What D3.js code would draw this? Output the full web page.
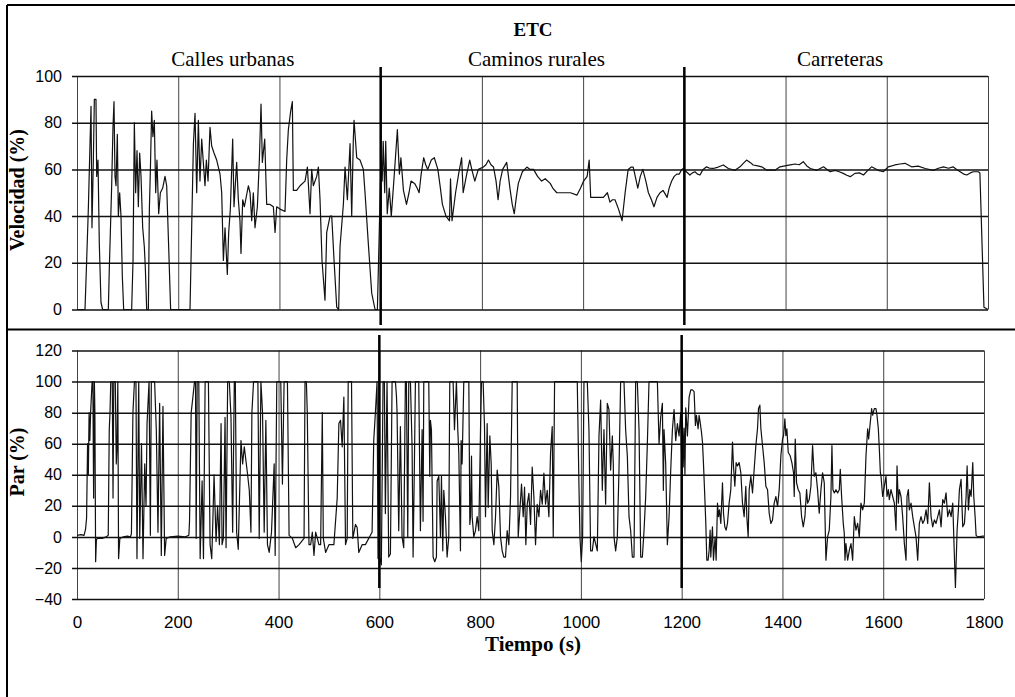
<!DOCTYPE html>
<html><head><meta charset="utf-8">
<script src="https://cdn.jsdelivr.net/npm/d3@7/dist/d3.min.js"></script>
<style>body{margin:0;background:#fff}svg{display:block}</style>
</head><body>
<svg id="c" width="1015" height="697"></svg>
<script>
// ---------- DATA ----------
const xTicks = [0,200,400,600,800,1000,1200,1400,1600,1800];
const speedTicks = [0,20,40,60,80,100];
const torqueTicks = [-40,-20,0,20,40,60,80,100,120];
const sections = ["Calles urbanas","Caminos rurales","Carreteras"];
const sectionMid = [300,900,1500];
const separators = [600,1200];

const speedUrban = [[0,0],[15.8,0],[19.1,21],[22.4,43],[25.7,71],[27.7,87],[29.6,35],[32.3,64],[34.3,90],[37.5,90],[38.9,57],[41.5,64],[44.1,28],[47.4,3],[50.7,0],[61.9,0],[63.9,18],[65.9,33],[68.5,53],[71.1,78],[73.1,89],[75.1,57],[77.1,53],[79.7,75],[81.7,40],[84.3,50],[86.9,40],[89.6,14],[92.2,0],[108,0],[110.7,21],[113.3,80],[115.9,50],[118.6,68],[121.2,44],[123.8,67],[126.5,57],[129.8,35],[133,27],[135,18],[137.7,0],[141,0],[143,43],[145,60],[147.5,85],[150,74],[152.8,81],[155.5,50],[158,64],[161.4,41],[164.7,50],[169.3,52],[173.9,57],[177.2,53],[181.1,27],[185,0],[223.3,0],[226.6,35],[230,71],[233.2,84],[236.5,50],[239.8,81],[243,55],[246.4,73],[249.6,63],[252.9,53],[255.6,64],[258.9,55],[262.8,78],[266.1,70],[270.7,67],[276,64],[282.6,58],[285.9,50],[289.2,21],[292.5,35],[297,15],[299.7,33],[303,43],[307.6,73],[310.2,44],[315.5,63],[318.8,47],[322,38],[324,24],[327.4,47],[330.7,44],[338.6,53],[341.9,50],[345.2,38],[348.4,50],[351.7,35],[356.4,44],[360.3,64],[363.6,88],[366.2,63],[370.9,73],[374.8,45],[381.4,45],[388,44],[391.3,33],[394.6,44],[401.2,43],[411,42],[414.3,64],[417.6,77],[422.2,85],[425.5,89],[427.5,51],[434,51],[440.7,53],[450.6,55],[455.2,61],[457.1,54],[460.4,41],[463.7,60],[467,53],[473.6,57],[476.9,61],[480.2,47],[484.1,21],[490,4],[493.4,33],[500,40],[503.3,40],[507.9,21],[513.2,1],[517,0],[519.7,27],[526.3,45],[529.6,61],[534.2,47],[539.5,71],[542.8,40],[546,73],[547.4,81],[552.7,65],[559.2,64],[565.8,60],[569.1,50],[575.7,28],[582.3,7],[588.9,0],[593.5,0],[597.4,35],[600.7,64]];

const speedRural = [[603,55],[605,72],[608,50],[610,72],[613,41],[617,52],[621,40],[627,58],[633,77],[637,58],[640,65],[645,51],[651,45],[656,50],[660,55],[667,54],[672,52],[676,50],[680,58],[685,65],[689,62],[693,60],[700,64],[706,65],[713,60],[718,52],[722,45],[729,40],[736,38],[738,56],[741,38],[748,50],[754,58],[760,65],[763,50],[770,58],[776,64],[780,60],[786,55],[793,60],[803,61],[808,62],[813,64],[818,62],[823,61],[828,55],[832,47],[836,55],[841,60],[849,63],[856,51],[860,45],[864,41],[868,48],[872,54],[880,59],[889,61],[895,60],[902,60],[910,57],[918,55],[925,56],[935,54],[940,52],[948,50],[960,50],[975,50],[988,49],[995,52],[1001,55],[1008,57],[1012,64],[1015,48],[1028,48],[1040,48],[1048,50],[1053,46],[1058,47],[1063,47],[1070,43],[1077,38],[1083,50],[1089,60],[1095,61],[1099,61],[1104,56],[1108,52],[1113,57],[1118,60],[1124,55],[1129,50],[1135,47],[1140,44],[1146,48],[1152,50],[1158,51],[1166,48],[1170,52],[1175,55],[1180,57],[1185,58],[1190,58],[1195,60]];

const speedHighway = [[1198,60.4],[1204,59],[1211,57.6],[1216,58.5],[1221,59],[1226,58],[1231,57.6],[1237,60],[1244,61.1],[1250,60.5],[1257,60.4],[1267,61],[1277,61.9],[1287,60.4],[1300,59.6],[1310,61.1],[1316,62.5],[1323,64],[1330,63],[1336,61.9],[1345,61.5],[1353,61.1],[1363,59.6],[1371,59.8],[1379,59.6],[1389,61.1],[1399,61.5],[1409,61.9],[1419,62.3],[1427,62],[1435,63.3],[1442,61.5],[1449,60.4],[1462,59.6],[1475,61.1],[1482,60],[1488,59],[1498,59.6],[1506,59],[1514,58.3],[1521,57.5],[1528,56.9],[1537,58.3],[1546,58.5],[1554,57.6],[1562,59.5],[1570,61.1],[1583,59.6],[1593,59],[1603,61.1],[1610,61.5],[1616,61.9],[1626,62.3],[1636,62.6],[1649,61.1],[1662,61.4],[1676,60.4],[1692,59.6],[1702,60.5],[1712,61.1],[1722,60.5],[1731,61.1],[1738,60],[1745,59],[1752,58],[1758,57.6],[1765,58.5],[1771,59],[1781,59],[1784,58.5],[1792,1],[1800,0]];

const torqueUrban = [[0,1],[8,1.5],[14,1],[17,5],[19,12],[21,60],[22.5,40],[24,80],[25.5,62],[27,80],[28.5,90],[30,100],[31.5,100],[33,25],[34.5,100],[35.5,80],[37,-16],[38.5,-2],[40,-1],[50,-1],[58,0],[62,1],[64,69],[65.5,80],[67,100],[70,100],[71.5,25],[73,100],[76,100],[78,47],[79.5,58],[81,100],[82.5,-14],[85,-1],[92,0],[100,0.5],[106,0],[108,2],[111,80],[114,100],[117,100],[119,-14],[122.5,100],[124.5,-1],[128,60],[131,-14],[134.4,47],[137,20],[139,73],[143,100],[145.6,1],[147.5,100],[151,100],[154,100],[157.4,69],[160.7,3],[164,86],[167.3,-12],[170.6,84],[173.9,-12],[177,-1],[185,0],[200,0.5],[215,0],[222,1],[223.3,10],[226.6,80],[230,90],[233.2,100],[235.2,100],[236.5,-1],[238.5,100],[241.7,100],[244.4,-14],[248.3,36],[251,-14],[254.3,100],[257.6,100],[260.8,100],[264.1,-5],[267.4,-14],[269.4,8],[272,40],[276,-3],[279,20],[282.6,-5],[285.9,73],[287.9,-5],[290.5,-1],[293.8,77],[295.8,-7],[299,100],[302.3,100],[305.6,77],[308.9,3],[312.2,100],[314.2,100],[316.8,3],[320,-8],[325.4,62],[328.7,47],[332,58],[335.3,49],[338.6,40],[341.9,30],[345.2,3],[347.1,80],[350.4,100],[355,100],[359,100],[361.6,-1],[365,100],[368.2,80],[371.5,3],[374.8,75],[378,-5],[381.4,-10],[386,3],[391.3,47],[393.3,-12],[396.5,100],[401,100],[404.4,100],[407.7,34],[411,100],[414.3,100],[417.6,100],[420.9,1],[427.5,-1],[434,-7],[440.7,-5],[450.6,-1],[452.5,100],[455.2,100],[457,80],[460.4,-5],[463.7,-5],[467,3],[470.3,-12],[473.6,3],[477,-1],[480,-5],[483.5,-5],[486.8,80],[488.8,-1],[493.4,-10],[500,-5],[506.5,-5],[509.8,-5],[516.4,25],[519.7,73],[523,75],[526.3,58],[529.6,90],[532.9,-5],[536.2,-1],[538.2,100],[540.8,100],[544.8,100],[547.4,-1],[552.7,8],[556,6],[559.2,-10],[565.8,-5],[572.4,-5],[582.3,1],[585.6,3],[588.9,62],[592.2,80],[595.5,100],[597.4,-14],[600,100]];

const torqueRural = [[600.7,-13],[604,-18],[607.4,100],[610,100],[612,15],[615.3,100],[618.6,-13],[622,-11],[625.3,100],[628.6,100],[631.9,100],[633.9,91],[635.2,80],[638.5,4],[641.8,71],[645.1,0],[648.4,-7],[651.7,100],[653.7,100],[656.4,0],[658.4,100],[661.7,100],[665,58],[667,-13],[669.6,47],[671.6,100],[674.9,100],[678.2,100],[681.5,4],[684.9,69],[686.8,10],[688.2,100],[691.5,100],[694.8,100],[698.1,100],[700.1,39],[701.4,75],[703.4,69],[706.7,-13],[710,-16],[713.3,-13],[714.7,36],[718,39],[721.3,0],[723.3,39],[725.9,-9],[727.9,30],[731.2,13],[734.5,-13],[737.8,0],[739.8,100],[743.1,100],[746.4,100],[749.1,69],[753,100],[755.7,69],[757.7,54],[761,-9],[762.3,62],[764.3,47],[767.6,100],[771,100],[774.3,100],[777.6,100],[779.6,8],[780.9,13],[782.9,52],[784.2,13],[787.5,0],[790.8,4],[794.1,13],[797.4,4],[800.8,69],[802.7,100],[806,100],[808.7,71],[810.7,13],[814,73],[816,19],[819.3,65],[822,47],[824,4],[827.3,-5],[830.6,13],[833.9,43],[837.2,32],[840.5,0],[843.8,-9],[847.1,-13],[850.4,-13],[853.7,4],[857,-5],[860.4,26],[863.7,100],[867,100],[870.3,100],[873.6,100],[875.6,0],[878.9,17],[882.2,34],[885.5,13],[888.2,32],[890.8,-5],[893.5,21],[896.8,28],[900.1,8],[903.4,45],[906.7,26],[910,-5],[913.3,21],[916.7,13],[920,30],[923.3,21],[926.6,41],[929.9,21],[933.2,30],[936.5,13],[939.8,54],[943.1,71],[945.1,0],[947.8,100],[992.8,100],[996.1,34],[998.1,0],[1000.8,-16],[1003.4,0],[1006.1,100],[1012.7,100],[1016,69],[1019.3,-9],[1022.6,-9],[1026,0],[1032.6,-9],[1035.9,65],[1039.2,88],[1042.5,30],[1045.8,69],[1049.1,21],[1052.4,86],[1055.7,82],[1059,43],[1062.4,65],[1064.3,47],[1065.7,0],[1069,-9],[1072.3,0],[1075.6,43],[1078.9,100],[1085.5,100],[1088.8,69],[1092.2,52],[1095.5,13],[1098.8,4],[1102.1,-13],[1105.4,-13],[1108.7,100],[1112,100],[1115.4,69],[1118.7,-13],[1122,-13],[1125.3,4],[1128.6,26],[1131.9,60],[1135.2,100],[1145.2,100],[1151.8,100],[1155.1,60],[1158.4,77],[1161.7,86],[1163.7,30],[1165,69],[1168.3,47],[1171.6,-5],[1175,13],[1178.3,43],[1181.6,69],[1184.9,82],[1188.2,62],[1191.5,73],[1194.8,65],[1198.1,80]];

const torqueHighway = [[1200,50],[1201.5,75],[1203,45],[1204.8,70],[1206.5,40],[1208.1,83],[1211.4,65],[1214.8,90],[1218.1,94.6],[1221.4,94.6],[1224.7,93.5],[1227.3,71.7],[1229.3,78.3],[1232.6,69.6],[1234.6,78.3],[1236.6,74],[1239.3,67.4],[1241.3,61],[1243.2,47.8],[1245.9,26],[1247.9,8.7],[1249.9,-15],[1252.5,-15],[1254.5,-8.7],[1256.5,4.3],[1257.8,-13],[1261.1,6.5],[1263.1,-15],[1264.4,-8.7],[1266.4,0],[1268.4,-15],[1271.1,21.7],[1273,13],[1275,17.4],[1277.7,8.7],[1281,34.8],[1283,15.2],[1285.6,6.5],[1288.3,4.3],[1290.9,8.7],[1294.2,21.7],[1297.5,30.4],[1300.9,61],[1302.8,45.7],[1305.5,32.6],[1308.1,47.8],[1310.8,45.7],[1314.1,47.8],[1317.4,41.3],[1320.7,21.7],[1324,13],[1327.3,32.6],[1329.3,13],[1332,0],[1334,30.4],[1337.3,39],[1340.6,28.3],[1343.9,43.5],[1347.2,58.7],[1350.5,69.6],[1352.5,82.6],[1355.2,84.8],[1357.2,69.6],[1360.5,58.7],[1363.8,47.8],[1367.1,32.6],[1370.4,30.4],[1373.7,15.2],[1377,8.7],[1380.3,10.9],[1383.6,21.7],[1387,26],[1390.3,19.6],[1393.6,30.4],[1396.9,52.2],[1400.2,63],[1402.2,65.2],[1404.8,76],[1406.8,65.2],[1408.8,69.6],[1411.5,54.3],[1415.4,52.2],[1418.7,47.8],[1422,41.3],[1423.4,26],[1425.4,63],[1428,34.8],[1431.3,30.4],[1434.6,28.3],[1438,13],[1441.3,6.5],[1444.6,13],[1447.9,30.4],[1449.9,21.7],[1453.2,24],[1456.5,32.6],[1459.8,58.7],[1463.1,39],[1466.4,41.3],[1469.7,30.4],[1473,15.2],[1476.4,30.4],[1479.7,41.3],[1483,34.8],[1486.3,-15],[1489.6,0],[1492.9,4.3],[1496.2,26],[1498.2,58.7],[1500.2,30.4],[1502.9,28.3],[1506.2,30.4],[1509.5,28.3],[1512.8,30.4],[1514.8,43.5],[1517.4,26],[1520.7,8.7],[1522.7,2.2],[1524.1,-15],[1526,-4.3],[1529.4,-15],[1532.7,-8.7],[1536,-4.3],[1539.3,-15],[1542.6,13],[1545.9,4.3],[1549.2,8.7],[1552.5,0],[1555.8,21.7],[1559.2,17.4],[1562.5,21.7],[1565.8,52.2],[1569.1,69.6],[1571.1,63],[1574.4,74],[1577,82.6],[1579,78.3],[1582.3,82.6],[1585.6,82.6],[1587.6,78.3],[1590.3,69.6],[1592.3,56.5],[1594.3,41.3],[1595.6,39],[1598.9,26],[1602.2,32.6],[1605.5,39],[1607.5,26],[1610.2,30.4],[1612.1,24],[1615.4,30.4],[1618.8,26],[1622.1,21.7],[1625.4,4.3],[1627.4,45.7],[1630,21.7],[1632,30.4],[1635.3,26],[1638.6,13],[1641.9,-4.3],[1645.3,-15],[1647.2,26],[1649.9,30.4],[1651.9,17.4],[1655.2,21.7],[1658.5,13],[1661.8,6.5],[1665.1,0],[1668.4,-15],[1671.7,8.7],[1675,13],[1678.4,8.7],[1681.7,10.9],[1685,17.4],[1688.3,8.7],[1691.6,34.8],[1694.9,13],[1698.2,6.5],[1701.5,10.9],[1704.8,8.7],[1708.2,13],[1711.5,17.4],[1714.8,6.5],[1718.1,24],[1721.4,21.7],[1724.7,28.3],[1728,13],[1731.4,17.4],[1734.7,13],[1738,21.7],[1741.3,-13],[1743.3,-32.6],[1746.6,4.3],[1749.2,17.4],[1751.2,30.4],[1754.5,37],[1757.8,6.5],[1761.2,8.7],[1764.5,26],[1766.5,45.7],[1769.1,17.4],[1771.8,30.4],[1774.4,26],[1777.7,47.8],[1779.7,26],[1782.4,13],[1784.3,1],[1787.6,0],[1797.6,0.5],[1800,0.5]];

// ---------- DRAW ----------
const svg = d3.select("#c");
const serif = "'Liberation Serif','Times New Roman',serif";
const sans = "'Liberation Sans',Arial,sans-serif";

// frame
svg.append("line").attr("x1",7).attr("y1",5).attr("x2",1015).attr("y2",5).attr("stroke","#000").attr("stroke-width",2);
svg.append("line").attr("x1",7).attr("y1",5).attr("x2",7).attr("y2",697).attr("stroke","#000").attr("stroke-width",2);
svg.append("line").attr("x1",7).attr("y1",329.5).attr("x2",1015).attr("y2",329.5).attr("stroke","#000").attr("stroke-width",2);

function panel(xs, ys, yTickVals, showXLabels, series, sepTop, sepBot){
  const g = svg.append("g");
  const [x0,x1] = xs.range();
  const [yb,yt] = ys.range();
  const ax = g.append("g").attr("transform",`translate(0,${yb})`)
    .call(d3.axisBottom(xs).tickValues(xTicks).tickSize(-(yb-yt)).tickPadding(17)
      .tickFormat(showXLabels ? d3.format("d") : ""));
  ax.select(".domain").remove();
  ax.selectAll(".tick line").attr("stroke","#444").attr("stroke-width",1);
  ax.selectAll("text").attr("font-family",sans).attr("font-size",17).attr("fill","#000");
  const ay = g.append("g").attr("transform",`translate(${x0-5},0)`)
    .call(d3.axisLeft(ys).tickValues(yTickVals).tickSize(-(x1-x0+5)).tickPadding(10).tickFormat(d3.format("d")));
  ay.select(".domain").remove();
  ay.selectAll(".tick line").attr("stroke","#111").attr("stroke-width",1.5);
  ay.selectAll("text").attr("font-family",sans).attr("font-size",16).attr("fill","#000");
  const line = d3.line().x(d=>xs(d[0])).y(d=>ys(d[1]));
  g.append("path").datum(series).attr("d",line).attr("fill","none")
    .attr("stroke","#111").attr("stroke-width",1.2).attr("stroke-linejoin","round");
  g.selectAll(".sep").data(separators).join("line")
    .attr("x1",d=>xs(d)).attr("x2",d=>xs(d)).attr("y1",sepTop).attr("y2",sepBot)
    .attr("stroke","#000").attr("stroke-width",2.5);
}

const xTop = d3.scaleLinear().domain([0,1800]).range([77,988]);
const yTop = d3.scaleLinear().domain([0,100]).range([309.5,76]);
const xBot = d3.scaleLinear().domain([0,1800]).range([77,984]);
const yBot = d3.scaleLinear().domain([-40,120]).range([599,350.5]);

panel(xTop, yTop, speedTicks, false, speedUrban.concat(speedRural, speedHighway), 67, 325);
panel(xBot, yBot, torqueTicks, true, torqueUrban.concat(torqueRural, torqueHighway), 335, 588);

svg.append("text").attr("x",533).attr("y",36).attr("text-anchor","middle")
  .attr("font-family",serif).attr("font-weight","bold").attr("font-size",19).text("ETC");
svg.selectAll(".sec").data(sections).join("text")
  .attr("x",(d,i)=>xTop(sectionMid[i])+4).attr("y",66).attr("text-anchor","middle")
  .attr("font-family",serif).attr("font-size",21).text(d=>d);
svg.append("text").attr("transform","translate(24,190) rotate(-90)").attr("text-anchor","middle")
  .attr("font-family",serif).attr("font-weight","bold").attr("font-size",20).text("Velocidad (%)");
svg.append("text").attr("transform","translate(24,462) rotate(-90)").attr("text-anchor","middle")
  .attr("font-family",serif).attr("font-weight","bold").attr("font-size",20).text("Par (%)");
svg.append("text").attr("x",533).attr("y",651).attr("text-anchor","middle")
  .attr("font-family",serif).attr("font-weight","bold").attr("font-size",21).text("Tiempo (s)");
</script>
</body></html>
